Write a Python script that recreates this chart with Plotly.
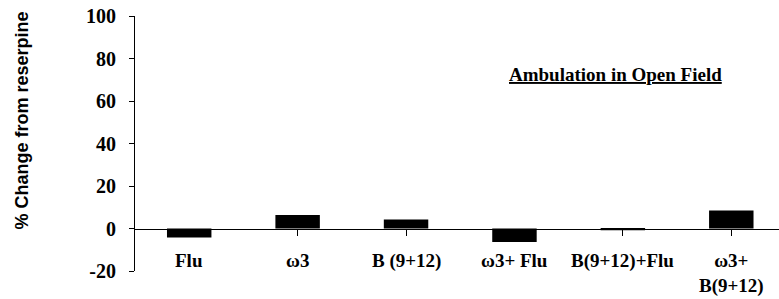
import plotly.graph_objects as go

categories = ["Flu", "ω3", "B (9+12)", "ω3+ Flu", "B(9+12)+Flu", "ω3+<br>B(9+12)"]
values = [-4.2, 6.3, 4.2, -6.4, -0.8, 8.5]
y_ticks = [-20, 0, 20, 40, 60, 80, 100]
y_tick_text = ["-20", "0", "20", "40", "60", "80", "100"]
title_text = "Ambulation in Open Field"
y_title = "% Change from reserpine"

serif = "Liberation Serif, Times New Roman, serif"
idx = list(range(len(categories)))

fig = go.Figure()
fig.add_trace(go.Bar(x=idx, y=values, width=0.41, marker=dict(color="black", line=dict(width=0)),
                     showlegend=False, hoverinfo="skip"))

for i, c in zip(idx, categories):
    fig.add_annotation(x=i, y=-9.3, xref="x", yref="y", text="<b>" + c + "</b>", showarrow=False,
                       xanchor="center", yanchor="top", align="center",
                       font=dict(family=serif, size=19, color="black"))

fig.add_annotation(x=3.93, y=72.6, xref="x", yref="y", text="<b><u>" + title_text + "</u></b>",
                   showarrow=False, xanchor="center", yanchor="middle",
                   font=dict(family=serif, size=19, color="black"))

fig.add_annotation(x=-0.1755, y=0.59, xref="paper", yref="paper", text="<b>" + y_title + "</b>",
                   showarrow=False, textangle=-90, xanchor="center", yanchor="middle",
                   font=dict(family="Liberation Sans", size=18, color="black"))

fig.update_layout(
    width=779, height=299,
    margin=dict(l=135, r=0, t=16, b=28, autoexpand=False),
    plot_bgcolor="white", paper_bgcolor="white",
    font=dict(family=serif, color="black"),
    xaxis=dict(range=[-0.5, 5.44], anchor="free", position=20 / 120, showline=True, linecolor="black",
               linewidth=1, ticks="outside", tickson="boundaries", ticklen=6, tickcolor="black",
               showticklabels=False, showgrid=False, zeroline=False, automargin=False,
               tickmode="array", tickvals=idx),
    yaxis=dict(range=[-20, 100], tickmode="array", tickvals=y_ticks,
               ticktext=["<b>" + t + "</b>" for t in y_tick_text],
               showline=True, linecolor="black", linewidth=1,
               ticks="outside", ticklen=5, tickcolor="black", showgrid=False, zeroline=False,
               ticklabelstandoff=9, automargin=False,
               tickfont=dict(family=serif, size=20, color="black")),
)

fig.write_html("out.html", config={"displayModeBar": False},
               post_script="document.body.style.margin='0';")
